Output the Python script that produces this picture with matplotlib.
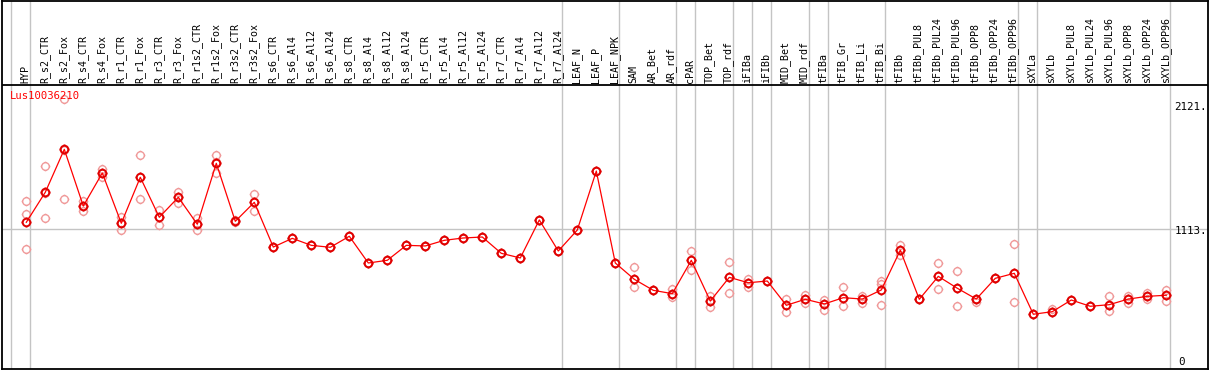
import numpy as np
import matplotlib
matplotlib.use("Agg")
import matplotlib.pyplot as plt
from matplotlib.path import Path

categories = ["HYP", "R_s2_CTR", "R_s2_Fox", "R_s4_CTR", "R_s4_Fox", "R_r1_CTR", "R_r1_Fox",
              "R_r3_CTR", "R_r3_Fox", "R_r1s2_CTR", "R_r1s2_Fox", "R_r3s2_CTR", "R_r3s2_Fox",
              "R_s6_CTR", "R_s6_Al4", "R_s6_Al12", "R_s6_Al24", "R_s8_CTR", "R_s8_Al4",
              "R_s8_Al12", "R_s8_Al24", "R_r5_CTR", "R_r5_Al4", "R_r5_Al12", "R_r5_Al24",
              "R_r7_CTR", "R_r7_Al4", "R_r7_Al12", "R_r7_Al24", "LEAF_N", "LEAF_P", "LEAF_NPK",
              "SAM", "AR_Bet", "AR_rdf", "cPAR", "TOP_Bet", "TOP_rdf", "iFIBa", "iFIBb",
              "MID_Bet", "MID_rdf", "tFIBa", "tFIB_Gr", "tFIB_Li", "tFIB_Bi", "tFIBb",
              "tFIBb_PUL8", "tFIBb_PUL24", "tFIBb_PUL96", "tFIBb_OPP8", "tFIBb_OPP24",
              "tFIBb_OPP96", "sXYLa", "sXYLb", "sXYLb_PUL8", "sXYLb_PUL24", "sXYLb_PUL96",
              "sXYLb_OPP8", "sXYLb_OPP24", "sXYLb_OPP96"]

mean_values = [1164, 1409, 1759, 1297, 1566, 1156, 1531, 1205, 1368, 1148, 1645, 1172, 1327,
               962, 1033, 976, 960, 1050, 832, 854, 976, 971, 1017, 1036, 1044, 911, 873, 1183,
               930, 1101, 1582, 832, 699, 609, 582, 854, 522, 715, 671, 685, 487, 536, 498,
               549, 538, 612, 936, 536, 723, 626, 538, 707, 748, 414, 435, 530, 479, 492, 538,
               560, 569]

rep1 = [1338, 1621, 2170, 1338, 1599, 1210, 1713, 1264, 1414, 1197, 1713, 1180, 1395,
        962, 1033, 976, 960, 1050, 832, 854, 976, 971, 1017, 1036, 1044, 911, 873, 1183,
        930, 1101, 1582, 832, 797, 609, 622, 930, 565, 840, 704, 685, 538, 573, 533,
        639, 565, 685, 981, 536, 832, 767, 516, 707, 984, 414, 457, 530, 479, 560, 560,
        585, 609]
rep2 = [1229, 1199, 1354, 1259, 1531, 1099, 1354, 1144, 1324, 1101, 1569, 1165, 1259,
        962, 1033, 976, 960, 1050, 832, 854, 976, 971, 1017, 1036, 1044, 911, 873, 1183,
        930, 1101, 1582, 832, 634, 609, 552, 772, 476, 585, 634, 685, 435, 508, 451,
        484, 506, 663, 897, 536, 617, 484, 538, 707, 511, 414, 435, 530, 479, 438, 508,
        538, 522]
rep3 = [944, 1406, 1754, 1297, 1566, 1156, 1531, 1205, 1368, 1148, 1654, 1172, 1327,
        962, 1033, 976, 960, 1050, 832, 854, 976, 971, 1017, 1036, 1044, 911, 873, 1183,
        930, 1101, 1582, 832, 699, 609, 582, 854, 522, 715, 671, 685, 487, 536, 498,
        549, 538, 487, 936, 536, 723, 626, 538, 707, 748, 414, 435, 530, 479, 492, 538,
        560, 569]

group_ends = [-1, 0, 28, 31, 34, 35, 37, 38, 39, 41, 42, 45, 52, 53, 60]
axis_labels = ["2121.", "1113.", "0"]
axis_values = [2121, 1113, 0]
gene_name = "Lus10036210"

# ---- layout (pixel geometry) ----
W, H = 1209, 370
DPI = 100
SCALE = 0.1226          # pixels per unit
ZERO_PX = 365.0         # pixel row of value 0
X0_PX, DX_PX = 26.3, 19.0


def px2val(ypx):
    return (ZERO_PX - ypx) / SCALE


def px2idx(xpx):
    return (xpx - X0_PX) / DX_PX


fig = plt.figure(figsize=(W / DPI, H / DPI), dpi=DPI)
left_px, right_px, top_px, bot_px = 1.5, 1207.5, 0.5, 369.0
ax = fig.add_axes([left_px / W, 1 - bot_px / H, (right_px - left_px) / W, (bot_px - top_px) / H])
ax.set_xlim(px2idx(left_px), px2idx(right_px))
ax.set_ylim(px2val(bot_px), px2val(top_px))
ax.set_xticks([])
ax.set_yticks([])
for s in ax.spines.values():
    s.set_color("black")
    s.set_linewidth(1.3)

x = np.arange(len(categories))
mono = "DejaVu Sans Mono"

# grid lines
for g in group_ends:
    ax.axvline(g + 0.2, color="#c4c4c4", lw=1.0, zorder=1)
ax.axhline(1113, color="#c4c4c4", lw=1.0, zorder=1)
ax.axhline(px2val(85), color="black", lw=1.3, zorder=2)

# custom ring marker with short ticks
circ = Path.circle((0, 0), 1.0)
t = 1.28
ticks = Path([(0, 1), (0, t), (0, -1), (0, -t), (1, 0), (t, 0), (-1, 0), (-t, 0)],
             [Path.MOVETO, Path.LINETO] * 4)
ring = Path.make_compound_path(circ, ticks)

for rep in (rep1, rep2, rep3):
    ax.plot(x, rep, linestyle="none", marker=ring, markersize=7.0, markerfacecolor="none",
            markeredgecolor="#f09a9a", markeredgewidth=1.0, zorder=3)

ax.plot(x, mean_values, color="#ff0000", lw=0.9, zorder=4)
ax.plot(x, mean_values, linestyle="none", marker=ring, markersize=7.0, markerfacecolor="none",
        markeredgecolor="#e00000", markeredgewidth=1.4, zorder=5)

# header labels
for i, c in enumerate(categories):
    ax.text(i - 0.05, px2val(83), c, rotation=90, ha="center", va="bottom",
            fontsize=7.2, family=mono, color="black", zorder=6)

# axis value labels
for lab, v in zip(axis_labels, axis_values):
    if lab == "0":
        ax.text(px2idx(1178), px2val(357), lab, ha="left", va="top", fontsize=7.8,
                family=mono, color="black")
    elif v == 2121:
        ax.text(px2idx(1207), px2val(102), lab, ha="right", va="top", fontsize=7.8,
                family=mono, color="black")
    else:
        ax.text(px2idx(1207), px2val(226), lab, ha="right", va="top", fontsize=7.8,
                family=mono, color="black")

ax.text(px2idx(10), px2val(91), gene_name, ha="left", va="top", fontsize=7.6,
        family=mono, color="#ff0000", zorder=6)

fig.savefig("out.png", dpi=DPI)
